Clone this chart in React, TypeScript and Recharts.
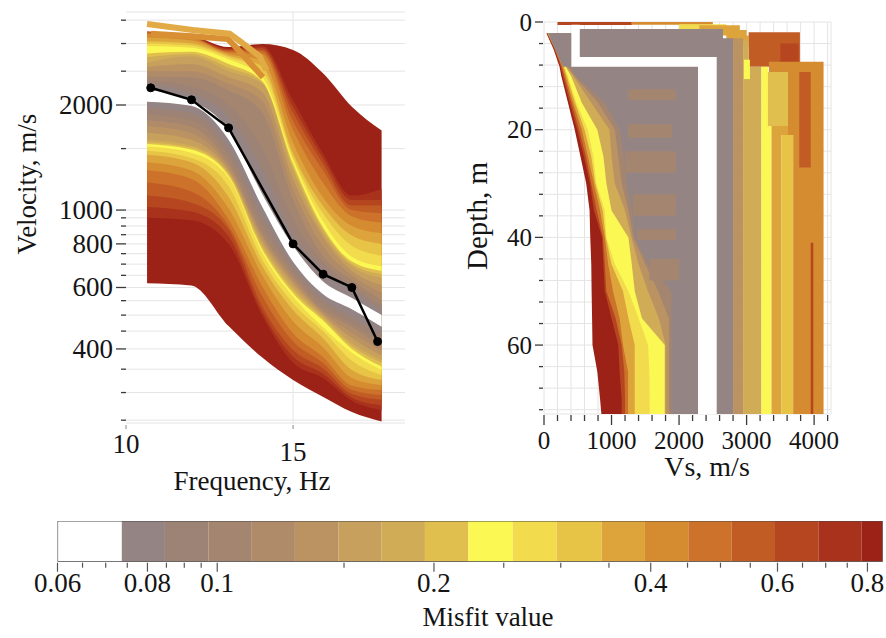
import React from 'react';
import { ComposedChart, Area, Line, XAxis, YAxis, CartesianGrid } from 'recharts';

const FONT = '"Liberation Serif", "Times New Roman", Times, serif';
const INK = '#141414';
const TICK_INK = '#3a3a3a';
const GRID = '#e4e4e4';

// Misfit palette: index 0 = best fit (white) ... 18 = worst fit (dark red)
const misfitColors = [
  '#ffffff', '#948584', '#9d8276', '#a48570', '#b08b6a', '#bb9363', '#c6a05c', '#d0ac56', '#e0bf4e',
  '#fbf753', '#f2db4d', '#e7c346', '#dea43c', '#d58c31', '#cc722a', '#c15c25', '#b6461f', '#a8321b', '#9c2217',
];
const misfitBounds = [
  0.06, 0.0737, 0.0846, 0.0972, 0.1117, 0.1282, 0.1473, 0.1692, 0.1943, 0.2232,
  0.2573, 0.2961, 0.3419, 0.3927, 0.4511, 0.5183, 0.5952, 0.6837, 0.7854, 0.84,
];
const misfitTicks = [0.06, 0.065, 0.07, 0.075, 0.08, 0.085, 0.09, 0.095, 0.1, 0.15, 0.2, 0.25, 0.3, 0.35, 0.4, 0.45, 0.5, 0.55, 0.6, 0.65, 0.7, 0.75, 0.8];
const misfitLabels = [0.06, 0.08, 0.1, 0.2, 0.4, 0.6, 0.8];

// ---- Dispersion curves (Rayleigh phase velocity vs frequency) ----
const freqs = [10.63, 11.95, 13.07, 14.08, 15.0, 15.89, 16.76, 17.65];
// upper / lower envelope of every misfit class, m/s, one row per class
const upperEdges = [
  [2210, 2060, 1700, 1110, 790, 625, 560, 500],
  [2290, 2160, 1850, 1300, 850, 680, 590, 515],
  [2350, 2260, 2000, 1500, 940, 710, 610, 532],
  [2410, 2400, 2200, 1900, 1068, 740, 630, 552],
  [2500, 2500, 2300, 2050, 1150, 790, 650, 580],
  [2570, 2620, 2400, 2180, 1230, 840, 670, 610],
  [2640, 2760, 2500, 2300, 1300, 860, 690, 640],
  [2740, 2800, 2560, 2320, 1330, 880, 700, 655],
  [2810, 2840, 2620, 2340, 1360, 895, 712, 670],
  [2950, 2920, 2700, 2400, 1391, 930, 735, 690],
  [3000, 2960, 2740, 2500, 1420, 980, 790, 740],
  [3045, 3000, 2770, 2580, 1455, 1030, 845, 800],
  [3120, 3060, 2800, 2680, 1560, 1090, 900, 858],
  [3200, 3110, 2830, 2800, 1696, 1200, 960, 920],
  [3225, 3130, 2850, 2850, 1800, 1300, 1000, 979],
  [3235, 3140, 2870, 2880, 1900, 1360, 1030, 1030],
  [3240, 3150, 2890, 2920, 1980, 1410, 1068, 1068],
  [3245, 3160, 2900, 2950, 2066, 1455, 1100, 1150],
  [3250, 3170, 2930, 2990, 2876, 2470, 1978, 1690],
];
const lowerEdges = [
  [2045, 1990, 1590, 1020, 711, 575, 520, 463],
  [1960, 1900, 1500, 960, 690, 555, 495, 440],
  [1880, 1815, 1430, 905, 668, 535, 475, 420],
  [1810, 1734, 1364, 858, 645, 518, 463, 406],
  [1740, 1660, 1330, 840, 630, 510, 445, 395],
  [1665, 1590, 1300, 820, 617, 503, 430, 383],
  [1590, 1530, 1285, 800, 603, 497, 416, 372],
  [1565, 1510, 1270, 785, 590, 490, 408, 365],
  [1545, 1490, 1255, 770, 578, 483, 400, 356],
  [1520, 1460, 1240, 755, 565, 462, 390, 348],
  [1480, 1410, 1170, 720, 540, 450, 370, 337],
  [1440, 1370, 1090, 690, 517, 430, 348, 326],
  [1370, 1300, 1010, 650, 480, 405, 330, 315],
  [1300, 1230, 940, 604, 444, 380, 314, 305],
  [1200, 1130, 900, 565, 420, 365, 305, 295],
  [1100, 1050, 880, 528, 397, 352, 297, 286],
  [1020, 990, 840, 510, 380, 340, 290, 276],
  [950, 935, 800, 497, 365, 330, 284, 267],
  [617, 608, 465, 378, 326, 292, 264, 248],
];
// two high-velocity outlier curves crossing the top of the cloud
const outlierFreqsA = [10.63, 12.0, 13.1, 13.4, 14.0, 14.2];
const outlierVelA = [3415, 3280, 3200, 3050, 2760, 2520];
const outlierFreqsB = [10.75, 12.0, 13.05, 13.3, 14.1];
const outlierVelB = [3200, 3148, 3090, 2920, 2400];
// measured dispersion points
const observedFreqs = [10.74, 11.96, 13.07, 15.0, 15.9, 16.76, 17.53];
const observedVel = [2240, 2070, 1720, 800, 655, 600, 420];

const velocityTicks = [250, 300, 350, 400, 450, 500, 550, 600, 650, 700, 750, 800, 850, 900, 950, 1000, 1500, 2000, 2500, 3000, 3500];
const velocityLabels = [400, 600, 800, 1000, 2000];
const freqTicks = [10, 15];

// ---- Vs profiles (depth in m, Vs in m/s); rows are [depth, vsLow, vsHigh] ----
const edgeDepths = [2.1, 5, 8.3, 10, 15, 20, 25, 30, 35, 40, 45, 50, 55, 60, 65, 70, 72.8];
const edgeRight = 2300;
const edge18 = [36, 140, 230, 255, 355, 455, 540, 625, 675, 685, 700, 705, 712, 718, 790, 830, 850];
const edge16 = [42, 150, 245, 275, 380, 490, 590, 680, 740, 860, 880, 900, 1000, 1100, 1120, 1150, 1150];
const edge14 = [48, 160, 260, 295, 405, 520, 620, 700, 780, 874, 900, 924, 1060, 1150, 1190, 1200, 1200];
const edge12 = [54, 170, 275, 315, 430, 560, 650, 740, 830, 900, 950, 1022, 1120, 1170, 1245, 1245, 1245];
const edge10 = [60, 180, 290, 335, 460, 600, 700, 760, 870, 915, 1000, 1170, 1250, 1344, 1344, 1344, 1344];
const edge9 = [66, 190, 305, 350, 480, 650, 730, 776, 900, 924, 1050, 1250, 1400, 1541, 1560, 1565, 1565];
const edge7 = [72, 200, 320, 400, 560, 790, 880, 924, 1000, 1250, 1300, 1344, 1450, 1788, 1788, 1788, 1788];
const edge5 = [78, 210, 335, 430, 700, 970, 1000, 1047, 1200, 1295, 1400, 1540, 1700, 1800, 1800, 1800, 1800];
const edge3 = [84, 220, 350, 450, 800, 1050, 1100, 1150, 1250, 1320, 1500, 1690, 1850, 1850, 1850, 1850, 1850];

const topLineRed = [[0, 200, 1300], [0.55, 200, 1300]];
const topLineOrange = [[0, 1300, 2500], [0.5, 1300, 2500]];
const topStepGold = [[0.4, 2000, 2700], [1.3, 2000, 2700]];
const topStepOrange = [[0.6, 2300, 2900], [1.5, 2300, 2900], [1.5, 2550, 3000], [2.5, 2550, 3000], [2.5, 2700, 3030], [4.6, 2700, 3030]];
const topBlockRust = [[1.9, 3030, 3790], [8.3, 3030, 3790]];
const topBlockRed = [[4, 3500, 3770], [7.4, 3500, 3770]];
const stripeTan = [[3, 2800, 2948], [72.8, 2800, 2948]];
const stripeGold = [[3.5, 2948, 3030], [8.3, 2948, 3030], [8.3, 2948, 3220], [72.8, 2948, 3220]];
const patchYellowTop = [[7, 2960, 3050], [10.6, 2960, 3050]];
const stripeYellow = [[8.3, 3220, 3316], [19.3, 3220, 3316], [19.3, 3220, 3369], [72.8, 3220, 3369]];
const stripeGoldTan = [[9.3, 3316, 3613], [19.3, 3316, 3613]];
const stripeAmber = [[19.3, 3369, 3640], [21, 3369, 3640], [21, 3369, 3517], [72.8, 3369, 3517]];
const stripeGoldDeep = [[21, 3517, 3690], [72.8, 3517, 3690]];
const stripeOrange = [[7.4, 3330, 4140], [9.3, 3330, 4140], [9.3, 3613, 4140], [21, 3613, 4140], [21, 3690, 4140], [72.8, 3690, 4140]];
const stripeRust = [[9.3, 3780, 3950], [27, 3780, 3950]];
const stripeRedLine = [[41, 3950, 3988], [72.8, 3950, 3988]];
const grayLeft = [[2.1, 60, 410], [8.3, 280, 410]];
const grayBand = [[1.3, 520, 2650], [3, 520, 2650], [3, 520, 2800], [6.5, 520, 2800]];
const grayStripe = [[6.5, 2554, 2800], [72.8, 2554, 2800]];
const grayBlock = [[8.3, 400, 2290], [10, 470, 2290], [15, 900, 2290], [20, 1120, 2290], [25, 1180, 2290], [30, 1220, 2290], [35, 1300, 2290], [40, 1344, 2290], [45, 1540, 2290], [50, 1887, 2290], [72.8, 1887, 2290]];
const patchA = [[12.5, 1250, 1950], [14.5, 1250, 1950]];
const patchB = [[19, 1250, 1900], [21.5, 1250, 1900]];
const patchC = [[24, 1200, 1950], [28, 1200, 1950]];
const patchD = [[32, 1320, 1950], [36, 1320, 1950]];
const patchE = [[38.5, 1380, 1950], [40.5, 1380, 1950]];
const patchF = [[44, 1560, 2000], [48, 1560, 2000]];
const bestProfile = [[0.5, 405, 530], [6.5, 405, 530], [6.5, 405, 2554], [8.3, 405, 2554], [8.3, 2281, 2554], [72.8, 2281, 2554]];

const vsTicks = Array.from({ length: 22 }, (_, i) => i * 200);
const depthTicks = Array.from({ length: 19 }, (_, i) => i * 4);

// ---- assembled series ----
const dispersionRows = freqs.map((f, i) => {
  const row: Record<string, any> = { freq: f };
  upperEdges.forEach((_, k) => {
    row['b' + k] = [lowerEdges[k][i], upperEdges[k][i]];
  });
  return row;
});
const toPoints = (fs: number[], vs: number[]) => fs.map((f, i) => ({ freq: f, v: vs[i] }));
const edgeRows = (edge: number[]) => edgeDepths.map((d, i) => [d, edge[i], edgeRight]);

const profilePieces: { level: number; rows: number[][] }[] = [
  { level: 16, rows: topLineRed },
  { level: 13, rows: topLineOrange },
  { level: 10, rows: topStepGold },
  { level: 12, rows: topStepOrange },
  { level: 15, rows: topBlockRust },
  { level: 16, rows: topBlockRed },
  { level: 5, rows: stripeTan },
  { level: 7, rows: stripeGold },
  { level: 9, rows: patchYellowTop },
  { level: 9, rows: stripeYellow },
  { level: 8, rows: stripeGoldTan },
  { level: 12, rows: stripeAmber },
  { level: 11, rows: stripeGoldDeep },
  { level: 13, rows: stripeOrange },
  { level: 15, rows: stripeRust },
  { level: 16, rows: stripeRedLine },
  { level: 18, rows: edgeRows(edge18) },
  { level: 16, rows: edgeRows(edge16) },
  { level: 14, rows: edgeRows(edge14) },
  { level: 12, rows: edgeRows(edge12) },
  { level: 10, rows: edgeRows(edge10) },
  { level: 9, rows: edgeRows(edge9) },
  { level: 7, rows: edgeRows(edge7) },
  { level: 5, rows: edgeRows(edge5) },
  { level: 3, rows: edgeRows(edge3) },
  { level: 1, rows: grayLeft },
  { level: 1, rows: grayBand },
  { level: 1, rows: grayStripe },
  { level: 1, rows: grayBlock },
  { level: 3, rows: patchA },
  { level: 3, rows: patchB },
  { level: 3, rows: patchC },
  { level: 3, rows: patchD },
  { level: 3, rows: patchE },
  { level: 3, rows: patchF },
  { level: 0, rows: bestProfile },
];

// colour bar cells: each cell spans [bound i, bound i+1] over the full bar height
const colorbarCells = misfitColors.map((c, i) => ({
  color: c,
  rows: [
    { m: misfitBounds[i], y: [0, 1] },
    { m: misfitBounds[i + 1], y: [0, 1] },
  ],
}));
const colorbarEnds = [misfitBounds[0], misfitBounds[misfitBounds.length - 1]];

// ---- tick renderers ----
const tickText = (size: number) => ({ fontFamily: FONT, fontSize: size, fill: INK });

function VelocityTick(props: any) {
  const { x, y, payload } = props;
  const major = velocityLabels.includes(payload.value);
  return (
    <g>
      <line x1={x - (major ? 10 : 5)} x2={x} y1={y} y2={y} stroke={TICK_INK} strokeWidth={1.3} />
      {major ? (
        <text x={x - 13} y={y} textAnchor="end" dominantBaseline="central" style={tickText(27)}>
          {payload.value}
        </text>
      ) : null}
    </g>
  );
}

function FrequencyTick(props: any) {
  const { x, y, payload } = props;
  const drop = payload.value === 10 ? 21 : 29;
  return (
    <g>
      <line x1={x} x2={x} y1={y + 2} y2={y + 6} stroke="#8a8a8a" strokeWidth={1} />
      <text x={x} y={y + drop} textAnchor="middle" dominantBaseline="central" style={tickText(27)}>
        {payload.value}
      </text>
    </g>
  );
}

function VsTick(props: any) {
  const { x, y, payload } = props;
  const major = payload.value % 1000 === 0;
  return (
    <g>
      <line x1={x} x2={x} y1={y + 1} y2={y + (major ? 11 : 7)} stroke={TICK_INK} strokeWidth={1.3} />
      {major ? (
        <text x={x} y={y + 26} textAnchor="middle" dominantBaseline="central" style={tickText(25)}>
          {payload.value}
        </text>
      ) : null}
    </g>
  );
}

function DepthTick(props: any) {
  const { x, y, payload } = props;
  const major = payload.value % 20 === 0;
  return (
    <g>
      <line x1={x - (major ? 9 : 5)} x2={x - 1} y1={y} y2={y} stroke={TICK_INK} strokeWidth={1.3} />
      {major ? (
        <text x={x - 12} y={y} textAnchor="end" dominantBaseline="central" style={tickText(25)}>
          {payload.value}
        </text>
      ) : null}
    </g>
  );
}

function MisfitTick(props: any) {
  const { x, y, payload } = props;
  const major = misfitLabels.includes(payload.value);
  return (
    <g>
      <line x1={x} x2={x} y1={y + 1} y2={y + (major ? 10 : 6)} stroke="#555" strokeWidth={1.2} />
      {major ? (
        <text x={x} y={y + 21} textAnchor="middle" dominantBaseline="central" style={tickText(27)}>
          {payload.value}
        </text>
      ) : null}
    </g>
  );
}

const axisCommon = { tickLine: false, axisLine: false, tickSize: 0, tickMargin: 0, interval: 0 as const };
const plain = { dot: false, activeDot: false, isAnimationActive: false } as const;

function DispersionPanel() {
  return (
    <ComposedChart width={420} height={500} data={dispersionRows} margin={{ top: 12, right: 15, bottom: 0, left: 0 }}>
      <CartesianGrid stroke={GRID} vertical={false} />
      <CartesianGrid stroke={GRID} horizontal={false} verticalValues={[15]} />
      <XAxis
        type="number"
        dataKey="freq"
        domain={[10, 18.35]}
        allowDataOverflow
        ticks={freqTicks}
        tick={<FrequencyTick />}
        height={77}
        {...axisCommon}
      />
      <YAxis
        type="number"
        scale="log"
        domain={[245.4, 3694]}
        allowDataOverflow
        ticks={velocityTicks}
        tick={<VelocityTick />}
        width={126}
        {...axisCommon}
      />
      {upperEdges
        .map((_, k) => k)
        .reverse()
        .map((k) => (
          <Area key={'band' + k} dataKey={'b' + k} type="monotone" fill={misfitColors[k]} fillOpacity={1} stroke="none" {...plain} />
        ))}
      <Line data={toPoints(outlierFreqsB, outlierVelB)} dataKey="v" type="linear" stroke="#d99035" strokeWidth={6} {...plain} />
      <Line data={toPoints(outlierFreqsA, outlierVelA)} dataKey="v" type="linear" stroke="#e2aa45" strokeWidth={6} {...plain} />
      <Line
        data={toPoints(observedFreqs, observedVel)}
        dataKey="v"
        type="linear"
        stroke="#000"
        strokeWidth={2.5}
        dot={{ r: 4, fill: '#000', stroke: '#000', strokeWidth: 1 }}
        activeDot={false}
        isAnimationActive={false}
      />
    </ComposedChart>
  );
}

function ProfilePanel() {
  return (
    <ComposedChart layout="vertical" width={446} height={500} margin={{ top: 22, right: 55, bottom: 0, left: 0 }}>
      <CartesianGrid stroke={GRID} />
      <XAxis type="number" domain={[0, 4250]} allowDataOverflow ticks={vsTicks} tick={<VsTick />} height={86} {...axisCommon} />
      <YAxis
        type="number"
        dataKey="d"
        domain={[0, 72.8]}
        allowDataOverflow
        ticks={depthTicks}
        tick={<DepthTick />}
        width={104}
        {...axisCommon}
      />
      {profilePieces.map((p, i) => (
        <Area
          key={'piece' + i}
          data={p.rows.map(([d, lo, hi]) => ({ d, v: [lo, hi] }))}
          dataKey="v"
          type="linear"
          fill={misfitColors[p.level]}
          fillOpacity={1}
          stroke="none"
          {...plain}
        />
      ))}
    </ComposedChart>
  );
}

function MisfitBar() {
  return (
    <ComposedChart width={886} height={133} margin={{ top: 16, right: 3.3, bottom: 0, left: 57.5 }}>
      <XAxis
        type="number"
        dataKey="m"
        scale="log"
        domain={[0.06, 0.84]}
        allowDataOverflow
        ticks={misfitTicks}
        tick={<MisfitTick />}
        height={76.3}
        {...axisCommon}
      />
      <YAxis hide type="number" domain={[0, 1]} allowDataOverflow />
      {colorbarCells.map((cell, i) => (
        <Area key={'cell' + i} data={cell.rows} dataKey="y" type="linear" fill={cell.color} fillOpacity={1} stroke="none" {...plain} />
      ))}
      <Area
        data={colorbarEnds.map((m) => ({ m, y: [0, 1] }))}
        dataKey="y"
        type="linear"
        fill="none"
        stroke="#4a4a4a"
        strokeWidth={1.2}
        {...plain}
      />
      {colorbarEnds.map((m, i) => (
        <Line
          key={'end' + i}
          data={[{ m, y: 0 }, { m, y: 1 }]}
          dataKey="y"
          type="linear"
          stroke="#4a4a4a"
          strokeWidth={1.2}
          {...plain}
        />
      ))}
    </ComposedChart>
  );
}

const titleStyle = { fontFamily: FONT, fontSize: 27, fill: INK };

export default function App() {
  return (
    <div style={{ position: 'absolute', left: 0, top: 0, width: 886, height: 638, background: '#fff', overflow: 'hidden' }}>
      <div style={{ position: 'absolute', left: 0, top: 0 }}>
        <DispersionPanel />
      </div>
      <div style={{ position: 'absolute', left: 440, top: 0 }}>
        <ProfilePanel />
      </div>
      <div style={{ position: 'absolute', left: 0, top: 505 }}>
        <MisfitBar />
      </div>
      <svg width={886} height={638} style={{ position: 'absolute', left: 0, top: 0, pointerEvents: 'none' }}>
        <text x={27} y={184} transform="rotate(-90 27 184)" textAnchor="middle" dominantBaseline="central" style={titleStyle}>
          Velocity, m/s
        </text>
        <text x={252} y={481} textAnchor="middle" dominantBaseline="central" style={titleStyle}>
          Frequency, Hz
        </text>
        <text x={477} y={216} transform="rotate(-90 477 216)" textAnchor="middle" dominantBaseline="central" style={{ ...titleStyle, fontSize: 29 }}>
          Depth, m
        </text>
        <text x={707} y={466} textAnchor="middle" dominantBaseline="central" style={{ ...titleStyle, fontSize: 28 }}>
          Vs, m/s
        </text>
        <text x={488} y={617} textAnchor="middle" dominantBaseline="central" style={titleStyle}>
          Misfit value
        </text>
      </svg>
    </div>
  );
}
